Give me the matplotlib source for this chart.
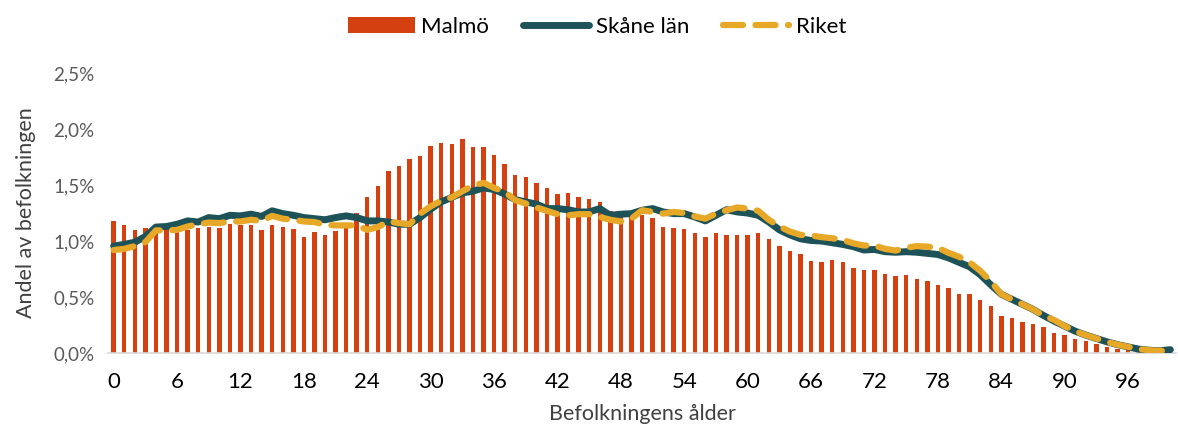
import numpy as np
import matplotlib.pyplot as plt
from matplotlib.ticker import FuncFormatter

# Population share by single-year age (percent)
ages = np.arange(0, 101)

malmo = [
    1.18, 1.14, 1.10, 1.12, 1.13, 1.12, 1.11, 1.10, 1.12, 1.13,
    1.12, 1.15, 1.14, 1.14, 1.10, 1.14, 1.13, 1.11, 1.04, 1.08,
    1.05, 1.09, 1.15, 1.25, 1.39, 1.49, 1.63, 1.67, 1.73, 1.76,
    1.85, 1.88, 1.87, 1.91, 1.84, 1.84, 1.77, 1.69, 1.59, 1.57,
    1.52, 1.47, 1.42, 1.43, 1.39, 1.38, 1.35, 1.27, 1.25, 1.24,
    1.23, 1.21, 1.13, 1.12, 1.11, 1.07, 1.04, 1.07, 1.05, 1.05,
    1.05, 1.07, 1.02, 0.96, 0.91, 0.88, 0.82, 0.81, 0.83, 0.81,
    0.76, 0.74, 0.74, 0.71, 0.69, 0.70, 0.66, 0.64, 0.61, 0.58,
    0.53, 0.53, 0.47, 0.42, 0.33, 0.31, 0.28, 0.26, 0.23, 0.18,
    0.16, 0.125, 0.11, 0.08, 0.055, 0.035, 0.025, 0.015, 0.01, 0.005,
    0.003,
]

skane = [
    0.955, 0.97, 0.99, 1.04, 1.125, 1.13, 1.15, 1.18, 1.17, 1.21,
    1.20, 1.23, 1.225, 1.24, 1.22, 1.27, 1.245, 1.23, 1.21, 1.20,
    1.19, 1.21, 1.225, 1.21, 1.18, 1.18, 1.17, 1.15, 1.15, 1.21,
    1.285, 1.35, 1.39, 1.43, 1.445, 1.475, 1.46, 1.42, 1.37, 1.35,
    1.33, 1.29, 1.29, 1.28, 1.26, 1.26, 1.29, 1.23, 1.24, 1.245,
    1.275, 1.29, 1.26, 1.245, 1.245, 1.215, 1.18, 1.23, 1.28, 1.26,
    1.25, 1.23, 1.17, 1.10, 1.055, 1.02, 1.005, 1.00, 0.985, 0.97,
    0.95, 0.92, 0.925, 0.905, 0.90, 0.905, 0.90, 0.89, 0.88, 0.85,
    0.81, 0.77, 0.70, 0.61, 0.525, 0.48, 0.435, 0.39, 0.335, 0.285,
    0.24, 0.195, 0.16, 0.13, 0.10, 0.075, 0.055, 0.035, 0.025, 0.02,
    0.03,
]

riket = [
    0.92, 0.93, 0.955, 0.99, 1.095, 1.095, 1.10, 1.13, 1.15, 1.165,
    1.16, 1.175, 1.175, 1.19, 1.18, 1.225, 1.20, 1.19, 1.175, 1.17,
    1.145, 1.14, 1.14, 1.14, 1.10, 1.125, 1.175, 1.16, 1.15, 1.245,
    1.31, 1.36, 1.39, 1.445, 1.495, 1.52, 1.475, 1.44, 1.365, 1.335,
    1.30, 1.27, 1.24, 1.23, 1.24, 1.24, 1.215, 1.19, 1.175, 1.20,
    1.275, 1.26, 1.245, 1.26, 1.25, 1.22, 1.20, 1.245, 1.275, 1.30,
    1.29, 1.27, 1.19, 1.13, 1.085, 1.055, 1.05, 1.035, 1.025, 1.01,
    0.98, 0.96, 0.96, 0.93, 0.915, 0.94, 0.955, 0.95, 0.94, 0.895,
    0.86, 0.81, 0.735, 0.64, 0.525, 0.48, 0.435, 0.39, 0.335, 0.295,
    0.24, 0.195, 0.16, 0.13, 0.10, 0.075, 0.055, 0.035, 0.025, 0.02,
    0.02,
]

xticks = np.arange(0, 97, 6)

plt.rcParams['font.family'] = ['Lato', 'DejaVu Sans']

fig = plt.figure(figsize=(11.78, 4.30), dpi=100)
ax = fig.add_axes([0.092, 0.179, 0.906, 0.651])

bars = ax.bar(ages, malmo, width=0.42, color='#d4400f', label='Malmö', zorder=2)
l1, = ax.plot(ages, skane, color='#1d5358', linewidth=5.0, solid_capstyle='round',
              label='Skåne län', zorder=3)
l2, = ax.plot(ages, riket, color='#e6a826', linewidth=4.5, linestyle=(0, (3.2, 2.0)),
              dash_capstyle='round', label='Riket', zorder=4)

ax.set_xlim(-0.5, 100.5)
ax.set_ylim(0, 2.5)
ax.set_yticks(np.arange(0, 2.51, 0.5))
ax.yaxis.set_major_formatter(FuncFormatter(lambda v, p: f'{v:.1f}%'.replace('.', ',')))
ax.set_xticks(xticks)
ax.set_xticklabels([str(t) for t in xticks])

for side in ['top', 'right', 'left']:
    ax.spines[side].set_visible(False)
ax.spines['bottom'].set_color('#d9d9d9')
ax.spines['bottom'].set_linewidth(1.2)
ax.tick_params(axis='both', length=0)
ax.tick_params(axis='x', labelsize=16, colors='black', pad=14)
ax.tick_params(axis='y', labelsize=13.5, colors='#595959', pad=10)

ax.set_xlabel('Befolkningens ålder', fontsize=15.5, color='#404040', labelpad=8)
ax.set_ylabel('Andel av befolkningen', fontsize=15.5, color='#404040', labelpad=12)

ax.legend([bars, l1, l2], ['Malmö', 'Skåne län', 'Riket'],
          loc='center', bbox_to_anchor=(0.458, 1.165), ncol=3, frameon=False,
          fontsize=16, handlelength=3.0, handletextpad=0.3, columnspacing=1.5)

fig.savefig('out.png', dpi=100)
